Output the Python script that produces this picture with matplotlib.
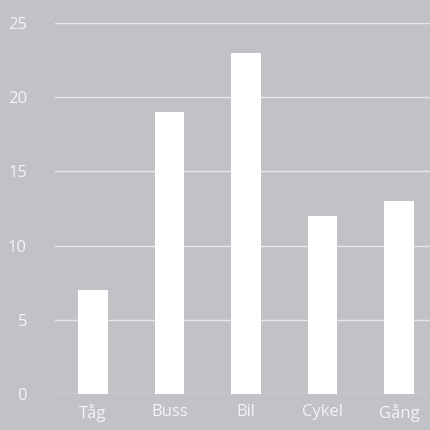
import matplotlib
matplotlib.use("Agg")
import matplotlib.pyplot as plt

categories = ["Tåg", "Buss", "Bil", "Cykel", "Gång"]
values = [7, 19, 23, 12, 13]
yticks = [0, 5, 10, 15, 20, 25]

bg = "#C1C2C6"
fig = plt.figure(figsize=(4.3, 4.3), dpi=100, facecolor=bg)
left = 54.75 / 430
width = 382.5 / 430
bottom = (430 - 394) / 430
height = 371 / 430
ax = fig.add_axes([left, bottom, width, height], facecolor=bg)

x = list(range(len(categories)))
ax.bar(x, values, width=0.39, color="white", zorder=3)
ax.set_xlim(-0.5, len(categories) - 0.5)
ax.set_ylim(0, 25)
ax.set_yticks(yticks)
ax.set_xticks(x)
ax.set_xticklabels(categories)
ax.yaxis.grid(True, color="#E6E6E8", linewidth=1.0, zorder=0)
ax.set_axisbelow(True)
for s in ax.spines.values():
    s.set_visible(False)
ax.tick_params(axis="both", length=0, colors="white", labelsize=12)
ax.tick_params(axis="y", pad=20)
ax.tick_params(axis="x", pad=7)
for lab in ax.get_xticklabels() + ax.get_yticklabels():
    lab.set_family("Open Sans")
    lab.set_color("#F4F4F5")

fig.savefig("out.png", dpi=100, facecolor=bg)
